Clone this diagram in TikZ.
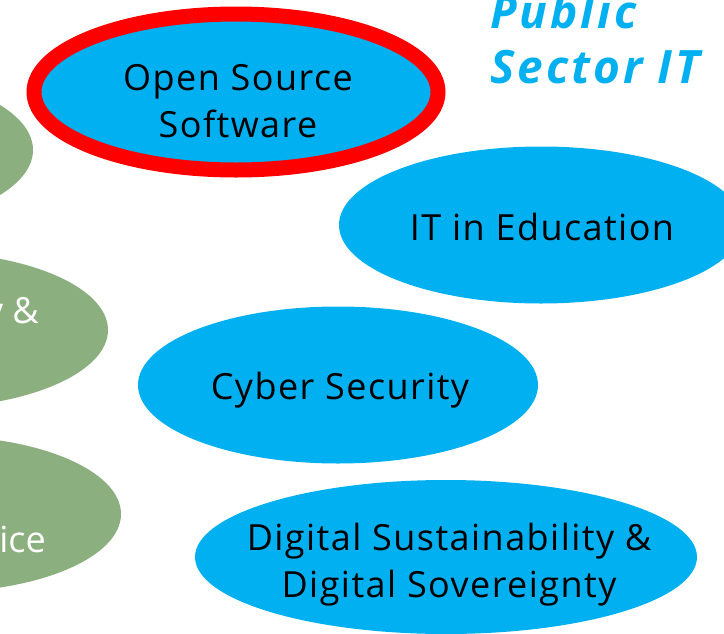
\documentclass[tikz,border=0pt]{standalone}
\usepackage{fontspec}
\setmainfont{Open Sans}
\newfontfamily\bodyfont[LetterSpace=4]{Open Sans}
\newfontfamily\titlefont[LetterSpace=6.5]{Open Sans}
\usetikzlibrary{shapes.geometric}
\definecolor{skyblue}{HTML}{00B0F0}
\definecolor{sage}{HTML}{8BAF7F}
\definecolor{hotred}{HTML}{FF0000}
\tikzset{
  bubble/.style={ellipse, fill=skyblue, inner sep=0pt},
  bubbletext/.style={align=center, inner sep=0pt, anchor=base,
    font=\bodyfont\fontsize{36}{47}\selectfont, text=black},
  greenbubble/.style={ellipse, fill=sage, inner sep=0pt},
  greentext/.style={font=\fontsize{36}{47}\selectfont, text=white, inner sep=0pt, anchor=base east},
  titletext/.style={font=\titlefont\fontsize{46}{55}\selectfont\bfseries\itshape, text=skyblue, inner sep=0pt, anchor=base west},
}
\begin{document}
\begin{tikzpicture}[x=1pt,y=-1pt]
\useasboundingbox (0,0) rectangle (724,633);
\clip (0,0) rectangle (724,633);
% green ellipses (cut off at left)
\node[greenbubble, minimum width=360pt, minimum height=156pt] (g1) at (-147,150) {};
\node[greenbubble, minimum width=366pt, minimum height=156pt] (g2) at (-75,330) {};
\node[greenbubble, minimum width=364pt, minimum height=156pt] (g3) at (-61,514) {};
\node[greentext] (g2t) at (39,323) {y \&};
\node[greentext] (g3t) at (46,552) {ice};
% blue ellipses
\node[bubble, draw=hotred, line width=15pt, minimum width=404pt, minimum height=156pt] (oss) at (236,92) {};
\node[bubble, minimum width=404pt, minimum height=157pt] (edu) at (541,225) {};
\node[bubble, minimum width=400pt, minimum height=157pt] (cyber) at (338,385) {};
\node[bubble, minimum width=502pt, minimum height=154pt] (dsds) at (446,557) {};
% texts
\node[bubbletext] (ossA) at (238,90) {Open Source};
\node[bubbletext] (ossB) at (238,137) {Software};
\node[bubbletext] (eduT) at (542,240) {IT in Education};
\node[bubbletext] (cyberT) at (340,399) {Cyber Security};
\node[bubbletext] (dsdsA) at (449,550) {Digital Sustainability \&};
\node[bubbletext] (dsdsB) at (449,597) {Digital Sovereignty};
% title
\node[titletext] (t1) at (490,28) {Public};
\node[titletext] (t2) at (490,83) {Sector IT};
\end{tikzpicture}
\end{document}
